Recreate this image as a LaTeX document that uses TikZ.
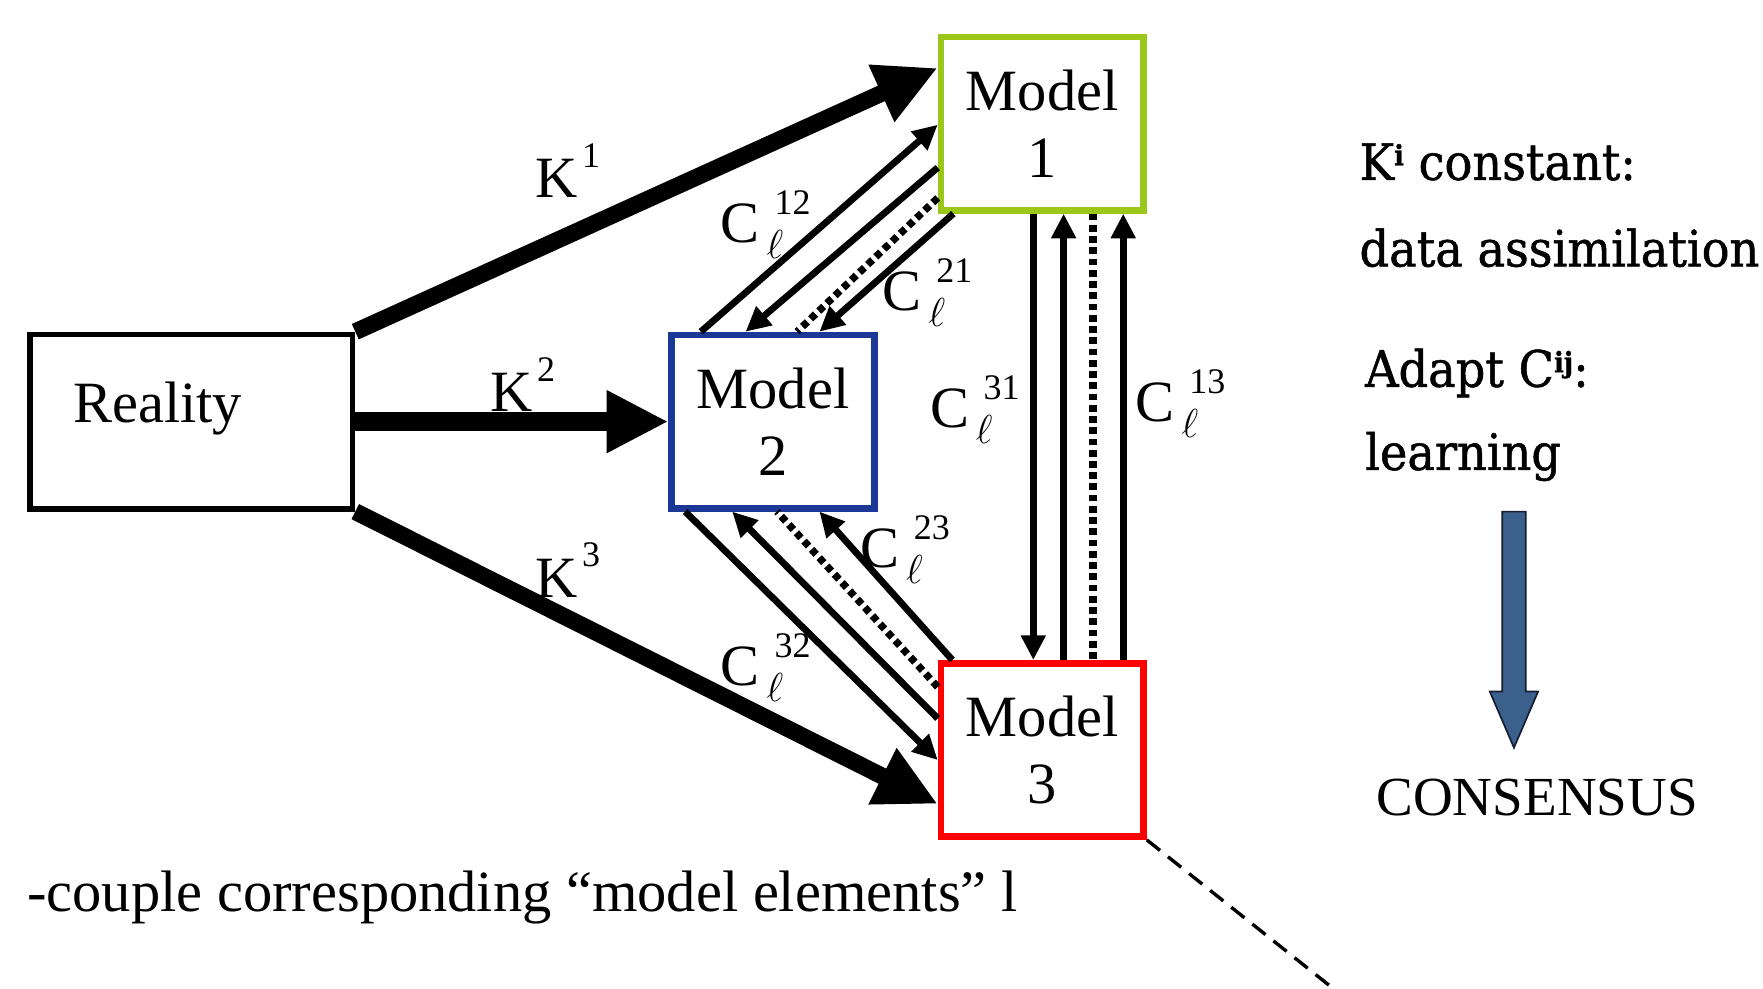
\RequirePackage{fix-cm}
\documentclass[tikz,border=0pt]{standalone}
\usepackage{fontspec}
\setmainfont{Liberation Serif}
\newfontfamily\rightfont{DejaVu Serif}[FakeStretch=0.92,FakeBold=1]
\usetikzlibrary{arrows.meta,calc}
\definecolor{mgreen}{RGB}{155,198,26}
\definecolor{mblue}{RGB}{28,56,150}
\definecolor{mred}{RGB}{255,0,0}
\definecolor{cblue}{RGB}{60,96,140}
\definecolor{cborder}{RGB}{20,30,50}
\newcommand\bigfont{\fontsize{52}{60}\selectfont}
\newcommand\rfont{\rightfont\fontsize{44.7}{50}\selectfont}
\newcommand\Ksup[1]{K\kern4pt\raisebox{27pt}{\fontsize{32}{36}\selectfont #1}}
\newcommand\Clab[1]{C\kern6pt\rlap{\raisebox{-14pt}{\fontsize{36}{38}\selectfont$\ell$}}\kern7pt\raisebox{25pt}{\fontsize{32}{36}\selectfont #1}}
\newcommand\rsup[1]{\raisebox{13pt}{\fontsize{25}{28}\selectfont\bfseries #1}}
\tikzset{
  mbox/.style={draw, line width=6pt, minimum width=180pt, minimum height=154pt, inner sep=0pt, align=center, font=\bigfont},
  karrow/.style={line width=15pt, -{Triangle[length=55pt,width=52pt]}},
  carrow/.style={line width=6pt, -{Triangle[length=22pt,width=21pt]}},
  dotline/.style={line width=6.5pt, dash pattern=on 6pt off 4pt},
  lab/.style={font=\bigfont, inner sep=0pt},
  txt/.style={anchor=base west, inner sep=0pt},
}
\begin{document}
\begin{tikzpicture}[x=1pt,y=-1pt]
\useasboundingbox (0,0) rectangle (1568,879);

% boxes
\node[draw, line width=5pt, minimum width=287pt, minimum height=155pt, inner sep=0pt] (real) at (170,375) {};
\node[txt, font=\bigfont] (realtxt) at (65,376) {Reality};
\node[mbox, draw=mgreen] (m1) at (927,110) {Model\\1};
\node[mbox, draw=mblue] (m2) at (687.5,375) {Model\\2};
\node[mbox, draw=mred] (m3) at (927,667) {Model\\3};

% K arrows
\draw[karrow] (real.north east) -- ($(m1.north west)!0.19!(m1.south west)$);
\draw[karrow, line width=17pt] (real.east) -- (m2.west);
\draw[karrow] (real.south east) -- ($(m3.north west)!0.8!(m3.south west)$);

% Model1 <-> Model2
\draw[carrow] ($(m2.north west)!0.155!(m2.north east)$) -- ($(m1.north west)!0.506!(m1.south west)$);
\draw[carrow] ($(m1.north west)!0.744!(m1.south west)$) -- ($(m2.north west)!0.369!(m2.north east)$);
\draw[dotline] ($(m1.north west)!0.9125!(m1.south west)$) -- ($(m2.north west)!0.615!(m2.north east)$);
\draw[carrow] ($(m1.south west)!0.075!(m1.south east)$) -- ($(m2.north west)!0.722!(m2.north east)$);

% Model2 <-> Model3
\draw[carrow] ($(m2.south west)!0.08!(m2.south east)$) -- ($(m3.north west)!0.556!(m3.south west)$);
\draw[carrow] ($(m3.north west)!0.325!(m3.south west)$) -- ($(m2.south west)!0.305!(m2.south east)$);
\draw[dotline] ($(m3.north west)!0.15!(m3.south west)$) -- ($(m2.south west)!0.519!(m2.south east)$);
\draw[carrow] ($(m3.north west)!0.07!(m3.north east)$) -- ($(m2.south west)!0.722!(m2.south east)$);

% Model1 <-> Model3
\coordinate (v1) at ($(m1.south west)!0.457!(m1.south east)$);
\coordinate (v2) at ($(m1.south west)!0.602!(m1.south east)$);
\coordinate (v3) at ($(m1.south west)!0.742!(m1.south east)$);
\coordinate (v4) at ($(m1.south west)!0.887!(m1.south east)$);
\draw[carrow] (v1) -- (v1 |- m3.north);
\draw[carrow] (v2 |- m3.north) -- (v2);
\draw[dotline] (v3) -- (v3 |- m3.north);
\draw[carrow] (v4 |- m3.north) -- (v4);

% labels
\node[lab] (k1) at (505,152) {\Ksup{1}};
\node[lab] (k2) at (465,342) {\Ksup{2}};
\node[lab] (k3) at (505,507) {\Ksup{3}};
\node[lab] (c12) at (681,200) {\Clab{12}};
\node[lab] (c21) at (825,260) {\Clab{21}};
\node[lab] (c31) at (867,364) {\Clab{31}};
\node[lab] (c13) at (1050,359) {\Clab{13}};
\node[lab] (c23) at (805,489) {\Clab{23}};
\node[lab] (c32) at (681,594) {\Clab{32}};

% right side
\node[txt, font=\rfont] (t1) at (1209,160) {K\rsup{i} constant:};
\node[txt, font=\rfont] (t2) at (1209,237) {data assimilation};
\node[txt, font=\rfont] (t3) at (1214,344) {Adapt C\rsup{ij}:};
\node[txt, font=\rfont] (t4) at (1214,418) {learning};
\draw[line width=1.5pt, draw=cborder, fill=cblue, line join=miter]
  (1336,455) -- (1357,455) -- (1357,615) -- (1368,615) -- (1346.5,665) -- (1325,615) -- (1336,615) -- cycle;
\node[txt, font=\fontsize{49}{56}\selectfont] (cons) at (1224,725) {CONSENSUS};

% bottom
\node[txt, font=\bigfont] (bot) at (24,811) {-couple corresponding “model elements” l};
\coordinate (dend) at (1188,881);
\draw[line width=3pt, dash pattern=on 15pt off 9pt] (m3.south east) -- (dend);
\end{tikzpicture}
\end{document}
